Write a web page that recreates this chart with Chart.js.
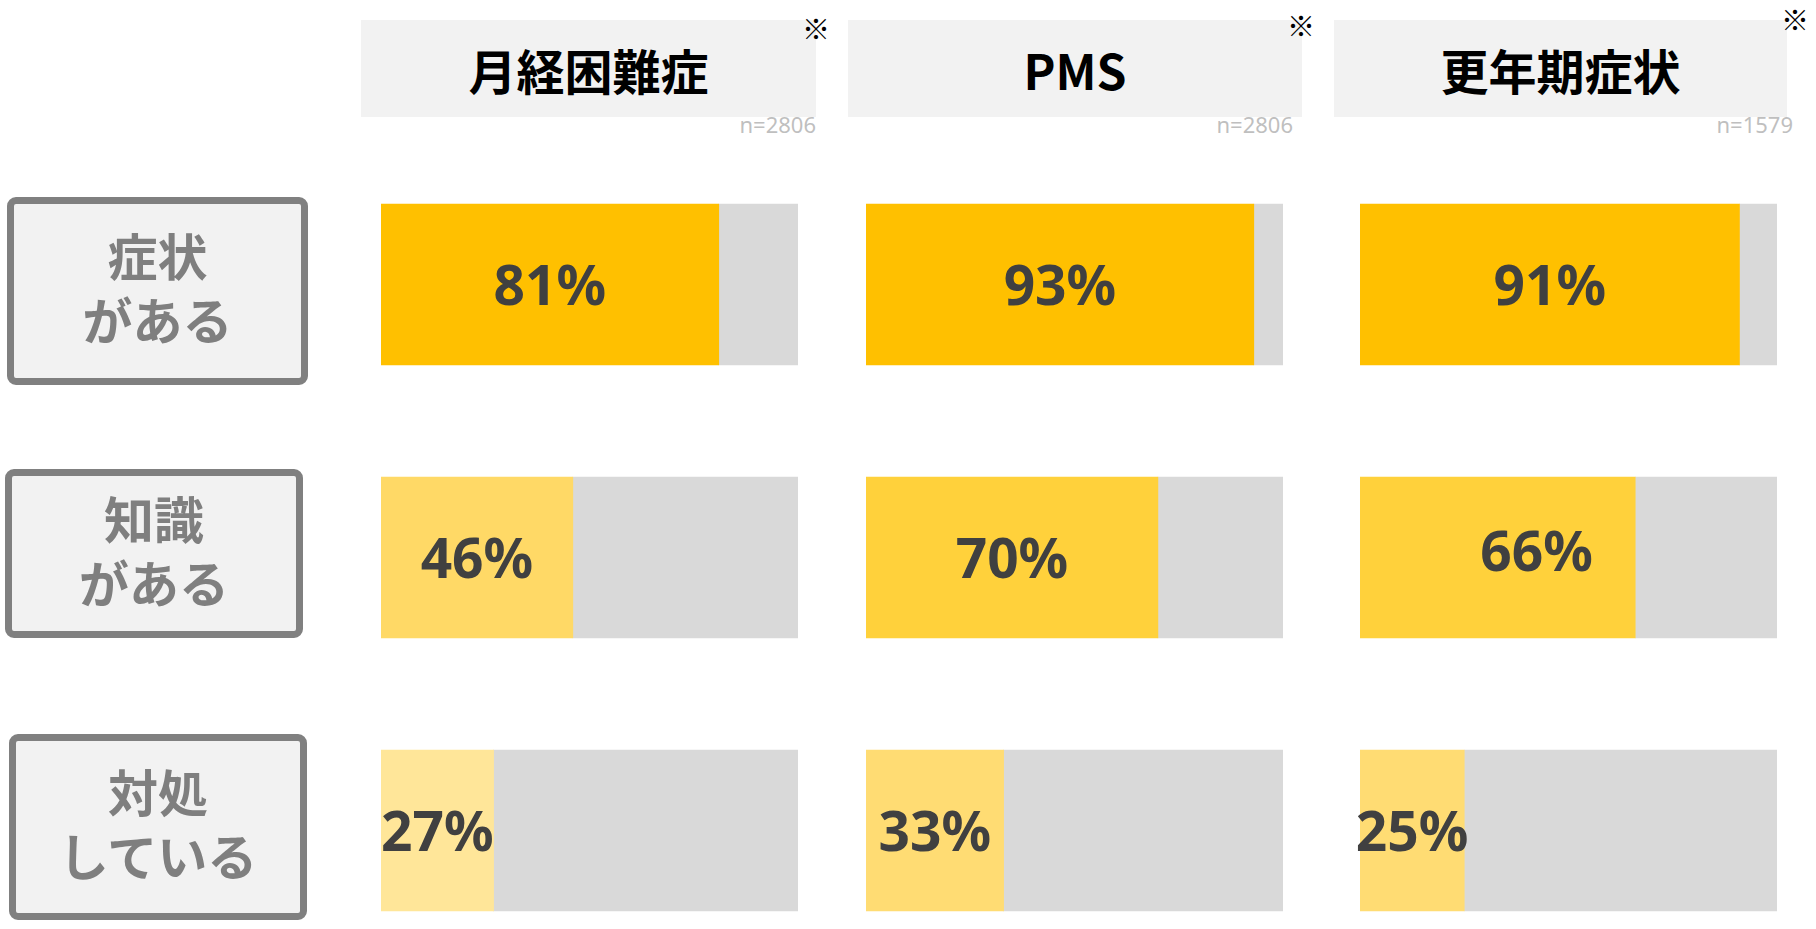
<!DOCTYPE html>
<html lang="ja">
<head>
<meta charset="utf-8">
<script src="https://cdn.jsdelivr.net/npm/chart.js@4.4.1/dist/chart.umd.min.js"></script>
<style>
html, body { margin: 0; padding: 0; background: #fff; }
body { width: 1816px; height: 929px; overflow: hidden; position: relative;
  font-family: "Noto Sans CJK JP", "Noto Sans", sans-serif; }
.head { position: absolute; top: 20px; height: 97px; background: #f2f2f2;
  display: flex; align-items: center; justify-content: center;
  font-size: 48px; font-weight: 700; color: #000; }
.mark { position: absolute; width: 30px; height: 30px; line-height: 30px; text-align: center;
  font-size: 28px; color: #000; }
.nval { position: absolute; top: 110px; width: 120px; line-height: 28px; text-align: right;
  font-family: "Noto Sans", sans-serif; font-size: 22px; color: #bfbfbf; }
.rowbox { position: absolute; box-sizing: border-box; border: 7px solid #808080; border-radius: 9px;
  background: #f2f2f2; color: #7f7f7f; font-size: 50px; line-height: 64px; font-weight: 700;
  padding-bottom: 10px;
  display: flex; align-items: center; justify-content: center; text-align: center; white-space: pre; }
canvas { position: absolute; }
</style>
</head>
<body>
<script>
const columns = ['月経困難症', 'PMS', '更年期症状'];
const sampleSizes = ['n=2806', 'n=2806', 'n=1579'];
const rows = ['症状\nがある', '知識\nがある', '対処\nしている'];
const menstrualPain = [81, 46, 27];
const pms = [93, 70, 33];
const menopause = [91, 66, 25];

const seriesByColumn = [menstrualPain, pms, menopause];

// layout (px)
const headBoxes = [[361, 455], [848, 454], [1334, 453]];
const marks = [[816, 28], [1301, 25], [1795, 19]];
const nRight = [816, 1293, 1793];
const rowBoxes = [[7, 197, 301, 188], [5, 469, 298, 169], [9, 734, 298, 186]];
const barLeft = [381, 866, 1360];
const barWidth = 417;
const pad = 12;

const fills = [
  ['#FFC000', '#FFD966', '#FFE699'],
  ['#FFC000', '#FFD13B', '#FFDC73'],
  ['#FFC000', '#FFD13B', '#FFDC73']
];

function addDiv(cls, text, css) {
  const d = document.createElement('div');
  d.className = cls;
  d.textContent = text;
  Object.assign(d.style, css);
  document.body.appendChild(d);
  return d;
}

columns.forEach((name, i) => {
  addDiv('head', name, { left: headBoxes[i][0] + 'px', width: headBoxes[i][1] + 'px' });
  addDiv('mark', '※', { left: (marks[i][0] - 15) + 'px', top: (marks[i][1] - 15) + 'px' });
  addDiv('nval', sampleSizes[i], { left: (nRight[i] - 120) + 'px' });
});

rows.forEach((name, i) => {
  const b = rowBoxes[i];
  addDiv('rowbox', name, { left: b[0] + 'px', top: b[1] + 'px', width: b[2] + 'px', height: b[3] + 'px' });
});

// draws the % value in the middle of the coloured part
const valueLabels = {
  id: 'valueLabels',
  afterDatasetsDraw(chart, args, opts) {
    const ctx = chart.ctx;
    const meta = chart.getDatasetMeta(0);
    ctx.save();
    ctx.font = 'bold 55px "Noto Sans"';
    ctx.fillStyle = '#404040';
    ctx.textAlign = 'center';
    ctx.textBaseline = 'alphabetic';
    meta.data.forEach((bar, i) => {
      const shift = (opts.shift && opts.shift[i]) || [0, 0];
      const x = (bar.base + bar.x) / 2 + shift[0];
      ctx.fillText(chart.data.datasets[0].data[i] + '%', x, bar.y + 20 + shift[1]);
    });
    ctx.restore();
  }
};

seriesByColumn.forEach((values, c) => {
  const canvas = document.createElement('canvas');
  canvas.width = barWidth + pad * 2;
  canvas.height = 819;
  canvas.style.left = (barLeft[c] - pad) + 'px';
  canvas.style.top = '148px';
  document.body.appendChild(canvas);

  new Chart(canvas.getContext('2d'), {
    type: 'bar',
    data: {
      labels: rows,
      datasets: [
        { data: values, backgroundColor: fills[c], barThickness: 161 },
        { data: values.map(v => 100 - v), backgroundColor: '#D9D9D9', barThickness: 161 }
      ]
    },
    options: {
      indexAxis: 'y',
      responsive: false,
      animation: false,
      layout: { padding: { left: pad, right: pad } },
      plugins: {
        legend: { display: false },
        tooltip: { enabled: false },
        valueLabels: { shift: c === 2 ? [null, [39, -7], null] : [] }
      },
      scales: {
        x: { stacked: true, min: 0, max: 100, display: false },
        y: { stacked: true, display: false }
      }
    },
    plugins: [valueLabels]
  });
});
</script>
</body>
</html>
